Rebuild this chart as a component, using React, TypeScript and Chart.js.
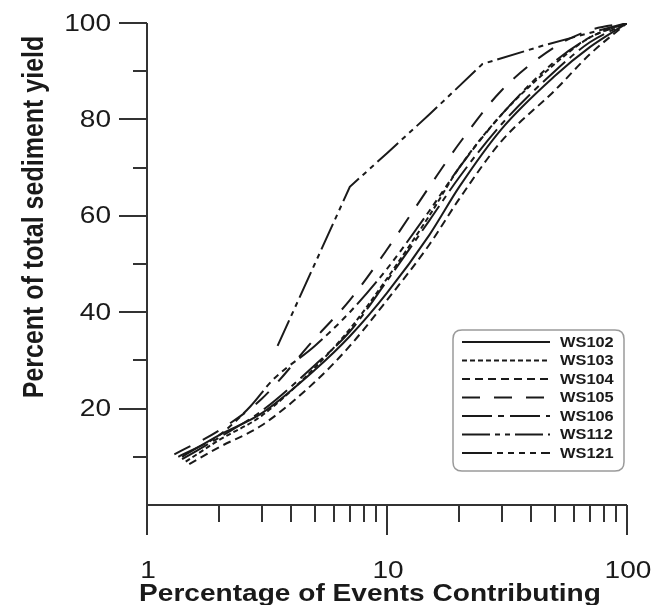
import React, { useEffect, useRef } from "react";
import { Chart, registerables } from "chart.js";

Chart.register(...registerables);

// ---- Data ----
const SERIES_NAMES = ["WS102", "WS103", "WS104", "WS105", "WS106", "WS112", "WS121"];

const WS102_X = [1.4, 2, 3, 5, 7, 10, 15, 20, 30, 50, 70, 100];
const WS102_Y = [10, 14.5, 19, 28, 35, 44, 56, 66, 78, 89, 95, 100];

const WS103_X = [1.45, 2, 3, 5, 7, 10, 15, 20, 30, 50, 70, 100];
const WS103_Y = [9, 13.5, 18.5, 28.5, 36.5, 47, 60, 70, 81, 91.5, 97, 100];

const WS104_X = [1.5, 2, 3, 5, 7, 10, 15, 20, 30, 50, 70, 100];
const WS104_Y = [8.5, 12, 16.5, 25.5, 33, 42.5, 54, 63.5, 75.5, 86, 93.5, 100];

const WS105_X = [1.3, 2, 3, 5, 7, 10, 15, 20, 30, 50, 70, 100];
const WS105_Y = [10.5, 15.5, 22, 34.5, 42.5, 53, 66, 75, 86, 95, 98.5, 100];

const WS106_X = [1.4, 2, 3, 5, 7, 10, 15, 20, 30, 50, 70, 100];
const WS106_Y = [9.5, 14, 19.5, 29, 36, 46.5, 59, 68, 79, 90, 96, 100];

const WS112_X = [3.5, 5, 7, 10, 15, 25, 46, 77, 100];
const WS112_Y = [33, 50, 66, 73, 81, 91.5, 95.5, 98.5, 100];

const WS121_X = [1.35, 2, 2.7, 3.35, 5, 7, 10, 15, 20, 30, 50, 70, 100];
const WS121_Y = [10, 14.5, 20.5, 26, 33, 40, 49, 61, 70, 81, 92, 97, 100];

const SERIES_X = [WS102_X, WS103_X, WS104_X, WS105_X, WS106_X, WS112_X, WS121_X];
const SERIES_Y = [WS102_Y, WS103_Y, WS104_Y, WS105_Y, WS106_Y, WS112_Y, WS121_Y];

// Tick values / labels
const X_MAJOR_TICKS = [1, 10, 100];
const X_MINOR_TICKS = [2, 3, 4, 5, 6, 7, 8, 9, 20, 30, 40, 50, 60, 70, 80, 90];
const Y_MAJOR_TICKS = [20, 40, 60, 80, 100];
const Y_MINOR_TICKS = [10, 30, 50, 70, 90];

const X_TITLE = "Percentage of Events Contributing";
const Y_TITLE = "Percent of total sediment yield";

// ---- Styles ----
const DASHES: number[][] = [
  [],
  [5, 3],
  [8, 5],
  [18, 14],
  [30, 6, 6, 6],
  [28, 5, 5, 5, 5, 5],
  [30, 5, 6, 5, 6, 5, 6, 5, 6, 5],
];
const STRAIGHT = [false, false, false, false, false, true, false];
const LINE_COLOR = "#1a1a1a";
const AXIS_COLOR = "#333333";
const TEXT_COLOR = "#1a1a1a";
const FONT = "Arial, 'Liberation Sans', Helvetica, sans-serif";
const STRETCH = 1.17; // the reference is slightly wider than tall

function drawText(
  ctx: CanvasRenderingContext2D,
  text: string,
  x: number,
  y: number,
  font: string,
  align: CanvasTextAlign,
  baseline: CanvasTextBaseline,
  rotate = 0
) {
  ctx.save();
  ctx.translate(x, y);
  if (rotate) {
    ctx.rotate(rotate);
    ctx.scale(1, STRETCH);
  } else {
    ctx.scale(STRETCH, 1);
  }
  ctx.font = font;
  ctx.textAlign = align;
  ctx.textBaseline = baseline;
  ctx.fillText(text, 0, 0);
  ctx.restore();
}

const axesPlugin = {
  id: "customAxes",
  afterDraw(chart: any) {
    const { ctx, chartArea, scales } = chart;
    const xs = scales.x;
    const ys = scales.y;
    const L = chartArea.left;
    const B = chartArea.bottom;
    ctx.save();
    ctx.strokeStyle = AXIS_COLOR;
    ctx.lineWidth = 2;
    ctx.setLineDash([]);
    ctx.beginPath();
    ctx.moveTo(L, chartArea.top);
    ctx.lineTo(L, B);
    ctx.moveTo(L, B);
    ctx.lineTo(chartArea.right, B);
    ctx.stroke();

    ctx.beginPath();
    Y_MAJOR_TICKS.forEach((v) => {
      const p = Math.round(ys.getPixelForValue(v));
      ctx.moveTo(L - 28, p);
      ctx.lineTo(L, p);
    });
    Y_MINOR_TICKS.forEach((v) => {
      const p = Math.round(ys.getPixelForValue(v));
      ctx.moveTo(L - 14, p);
      ctx.lineTo(L, p);
    });
    X_MAJOR_TICKS.forEach((v) => {
      const p = Math.round(xs.getPixelForValue(v));
      ctx.moveTo(p, B);
      ctx.lineTo(p, B + 30);
    });
    X_MINOR_TICKS.forEach((v) => {
      const p = Math.round(xs.getPixelForValue(v));
      ctx.moveTo(p, B);
      ctx.lineTo(p, B + 17);
    });
    ctx.stroke();

    ctx.fillStyle = TEXT_COLOR;
    Y_MAJOR_TICKS.forEach((v) => {
      drawText(ctx, String(v), L - 36, ys.getPixelForValue(v) + 1, `24px ${FONT}`, "right", "middle");
    });
    X_MAJOR_TICKS.forEach((v) => {
      drawText(ctx, String(v), xs.getPixelForValue(v) + 1, B + 66, `24px ${FONT}`, "center", "middle");
    });

    drawText(ctx, X_TITLE, 370, 601, `bold 24px ${FONT}`, "center", "alphabetic");
    drawText(ctx, Y_TITLE, 35, 217, `bold 25px ${FONT}`, "center", "middle", -Math.PI / 2);

    // legend
    const bx = 453, by = 330, bw = 171, bh = 141, r = 9;
    ctx.beginPath();
    ctx.strokeStyle = "#9a9a9a";
    ctx.lineWidth = 1.5;
    ctx.moveTo(bx + r, by);
    ctx.lineTo(bx + bw - r, by);
    ctx.quadraticCurveTo(bx + bw, by, bx + bw, by + r);
    ctx.lineTo(bx + bw, by + bh - r);
    ctx.quadraticCurveTo(bx + bw, by + bh, bx + bw - r, by + bh);
    ctx.lineTo(bx + r, by + bh);
    ctx.quadraticCurveTo(bx, by + bh, bx, by + bh - r);
    ctx.lineTo(bx, by + r);
    ctx.quadraticCurveTo(bx, by, bx + r, by);
    ctx.stroke();

    SERIES_NAMES.forEach((name, i) => {
      const yy = 342 + i * 18.5;
      ctx.strokeStyle = LINE_COLOR;
      ctx.lineWidth = 2;
      ctx.setLineDash(DASHES[i]);
      ctx.beginPath();
      ctx.moveTo(462, yy);
      ctx.lineTo(550, yy);
      ctx.stroke();
      ctx.setLineDash([]);
      drawText(ctx, name, 560, yy + 1, `bold 14px ${FONT}`, "left", "middle");
    });
    ctx.restore();
  },
};

export default function App() {
  const ref = useRef<HTMLCanvasElement>(null);
  useEffect(() => {
    const datasets = SERIES_NAMES.map((name, i) => ({
      label: name,
      data: SERIES_X[i].map((x, j) => ({ x, y: SERIES_Y[i][j] })),
      borderColor: LINE_COLOR,
      borderWidth: 2,
      borderDash: DASHES[i],
      pointRadius: 0,
      fill: false,
      tension: 0,
      cubicInterpolationMode: STRAIGHT[i] ? ("default" as const) : ("monotone" as const),
    }));
    const chart = new Chart(ref.current!, {
      type: "line",
      data: { datasets },
      options: {
        animation: false,
        responsive: false,
        devicePixelRatio: 1,
        layout: { padding: { left: 147, right: 24, top: 23, bottom: 100 } },
        plugins: { legend: { display: false }, tooltip: { enabled: false } },
        scales: {
          x: { type: "logarithmic", min: 1, max: 100, display: false },
          y: { type: "linear", min: 0, max: 100, display: false },
        },
      },
      plugins: [axesPlugin],
    });
    return () => chart.destroy();
  }, []);
  return (
    <div style={{ position: "fixed", left: 0, top: 0, width: 651, height: 605, background: "#fff" }}>
      <canvas ref={ref} width={651} height={605} style={{ display: "block", width: 651, height: 605 }} />
    </div>
  );
}
